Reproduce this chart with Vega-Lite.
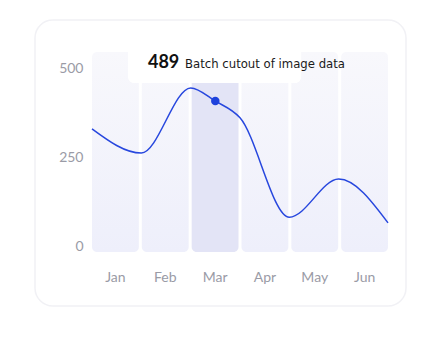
{
  "$schema": "https://vega.github.io/schema/vega-lite/v6.json",
  "width": 371,
  "height": 286,
  "autosize": {"type": "none"},
  "padding": {"left": 35, "top": 20, "right": 34, "bottom": 48},
  "background": "white",
  "config": {
    "view": {"fill": "white", "cornerRadius": 18, "stroke": "#f1f1f5", "strokeWidth": 1.5},
    "axis": {"grid": false, "domain": false, "ticks": false, "title": null, "labelFont": "Lato", "labelFontSize": 14, "labelColor": "#9a9ba6"}
  },
  "datasets": {
    "months": [
      {"month": "Jan"}, {"month": "Feb"}, {"month": "Mar"},
      {"month": "Apr"}, {"month": "May"}, {"month": "Jun"}
    ],
    "series": [
      {"pos": 0, "value": 329},
      {"pos": 1, "value": 261},
      {"pos": 2, "value": 444},
      {"pos": 2.5, "value": 407},
      {"pos": 3, "value": 360},
      {"pos": 4, "value": 81},
      {"pos": 5, "value": 188},
      {"pos": 6, "value": 65}
    ],
    "marker": [{"pos": 2.5, "value": 407}],
    "note": [{"value": 489, "label": "Batch cutout of image data"}]
  },
  "resolve": {"scale": {"x": "independent", "y": "independent"}},
  "layer": [
    {
      "data": {"name": "months"},
      "mark": {"type": "bar", "cornerRadius": 5},
      "encoding": {
        "x": {
          "field": "month", "type": "nominal", "sort": null,
          "scale": {"range": [57, 353], "paddingInner": 0.06, "paddingOuter": 0},
          "axis": {"labelAngle": 0, "offset": -36, "labelPadding": 0}
        },
        "y": {"datum": 1, "type": "quantitative", "scale": {"domain": [0, 1], "range": [232, 32]}, "axis": null},
        "y2": {"datum": 0},
        "fill": {
          "condition": {"test": "datum.month === 'Mar'", "value": "#e3e4f6"},
          "value": {
            "gradient": "linear", "x1": 0, "y1": 0, "x2": 0, "y2": 1,
            "stops": [{"offset": 0, "color": "#f8f8fc"}, {"offset": 1, "color": "#eeeffb"}]
          }
        }
      }
    },
    {
      "data": {"name": "note"},
      "mark": {"type": "rect", "fill": "white", "cornerRadius": 6},
      "encoding": {
        "x": {"datum": 0.73, "type": "quantitative", "scale": {"domain": [0, 6], "range": [57, 353]}, "axis": null},
        "x2": {"datum": 4.24},
        "y": {"datum": 570, "type": "quantitative", "scale": {"domain": [0, 500], "range": [226, 48]}, "axis": null},
        "y2": {"datum": 458}
      }
    },
    {
      "data": {"name": "series"},
      "mark": {"type": "line", "interpolate": "monotone", "color": "#2747de", "strokeWidth": 1.5},
      "encoding": {
        "x": {"field": "pos", "type": "quantitative", "scale": {"domain": [0, 6], "range": [57, 353]}, "axis": null},
        "y": {
          "field": "value", "type": "quantitative",
          "scale": {"domain": [0, 500], "range": [226, 48]},
          "axis": {"values": [0, 250, 500], "offset": -48, "labelPadding": 0}
        }
      }
    },
    {
      "data": {"name": "marker"},
      "mark": {"type": "circle", "size": 72, "color": "#1e42dc", "opacity": 1},
      "encoding": {
        "x": {"field": "pos", "type": "quantitative", "scale": {"domain": [0, 6], "range": [57, 353]}, "axis": null},
        "y": {"field": "value", "type": "quantitative", "scale": {"domain": [0, 500], "range": [226, 48]}, "axis": null}
      }
    },
    {
      "data": {"name": "note"},
      "mark": {"type": "text", "align": "left", "baseline": "alphabetic", "font": "Lato", "fontWeight": "bold", "fontSize": 18, "color": "#111111"},
      "encoding": {
        "x": {"datum": 1.135, "type": "quantitative", "scale": {"domain": [0, 6], "range": [57, 353]}, "axis": null},
        "y": {"datum": 499, "type": "quantitative", "scale": {"domain": [0, 500], "range": [226, 48]}, "axis": null},
        "text": {"field": "value"}
      }
    },
    {
      "data": {"name": "note"},
      "mark": {"type": "text", "align": "left", "baseline": "alphabetic", "font": "DejaVu Sans", "fontSize": 11.7, "color": "#1a1a1a"},
      "encoding": {
        "x": {"datum": 1.885, "type": "quantitative", "scale": {"domain": [0, 6], "range": [57, 353]}, "axis": null},
        "y": {"datum": 499, "type": "quantitative", "scale": {"domain": [0, 500], "range": [226, 48]}, "axis": null},
        "text": {"field": "label"}
      }
    }
  ]
}
